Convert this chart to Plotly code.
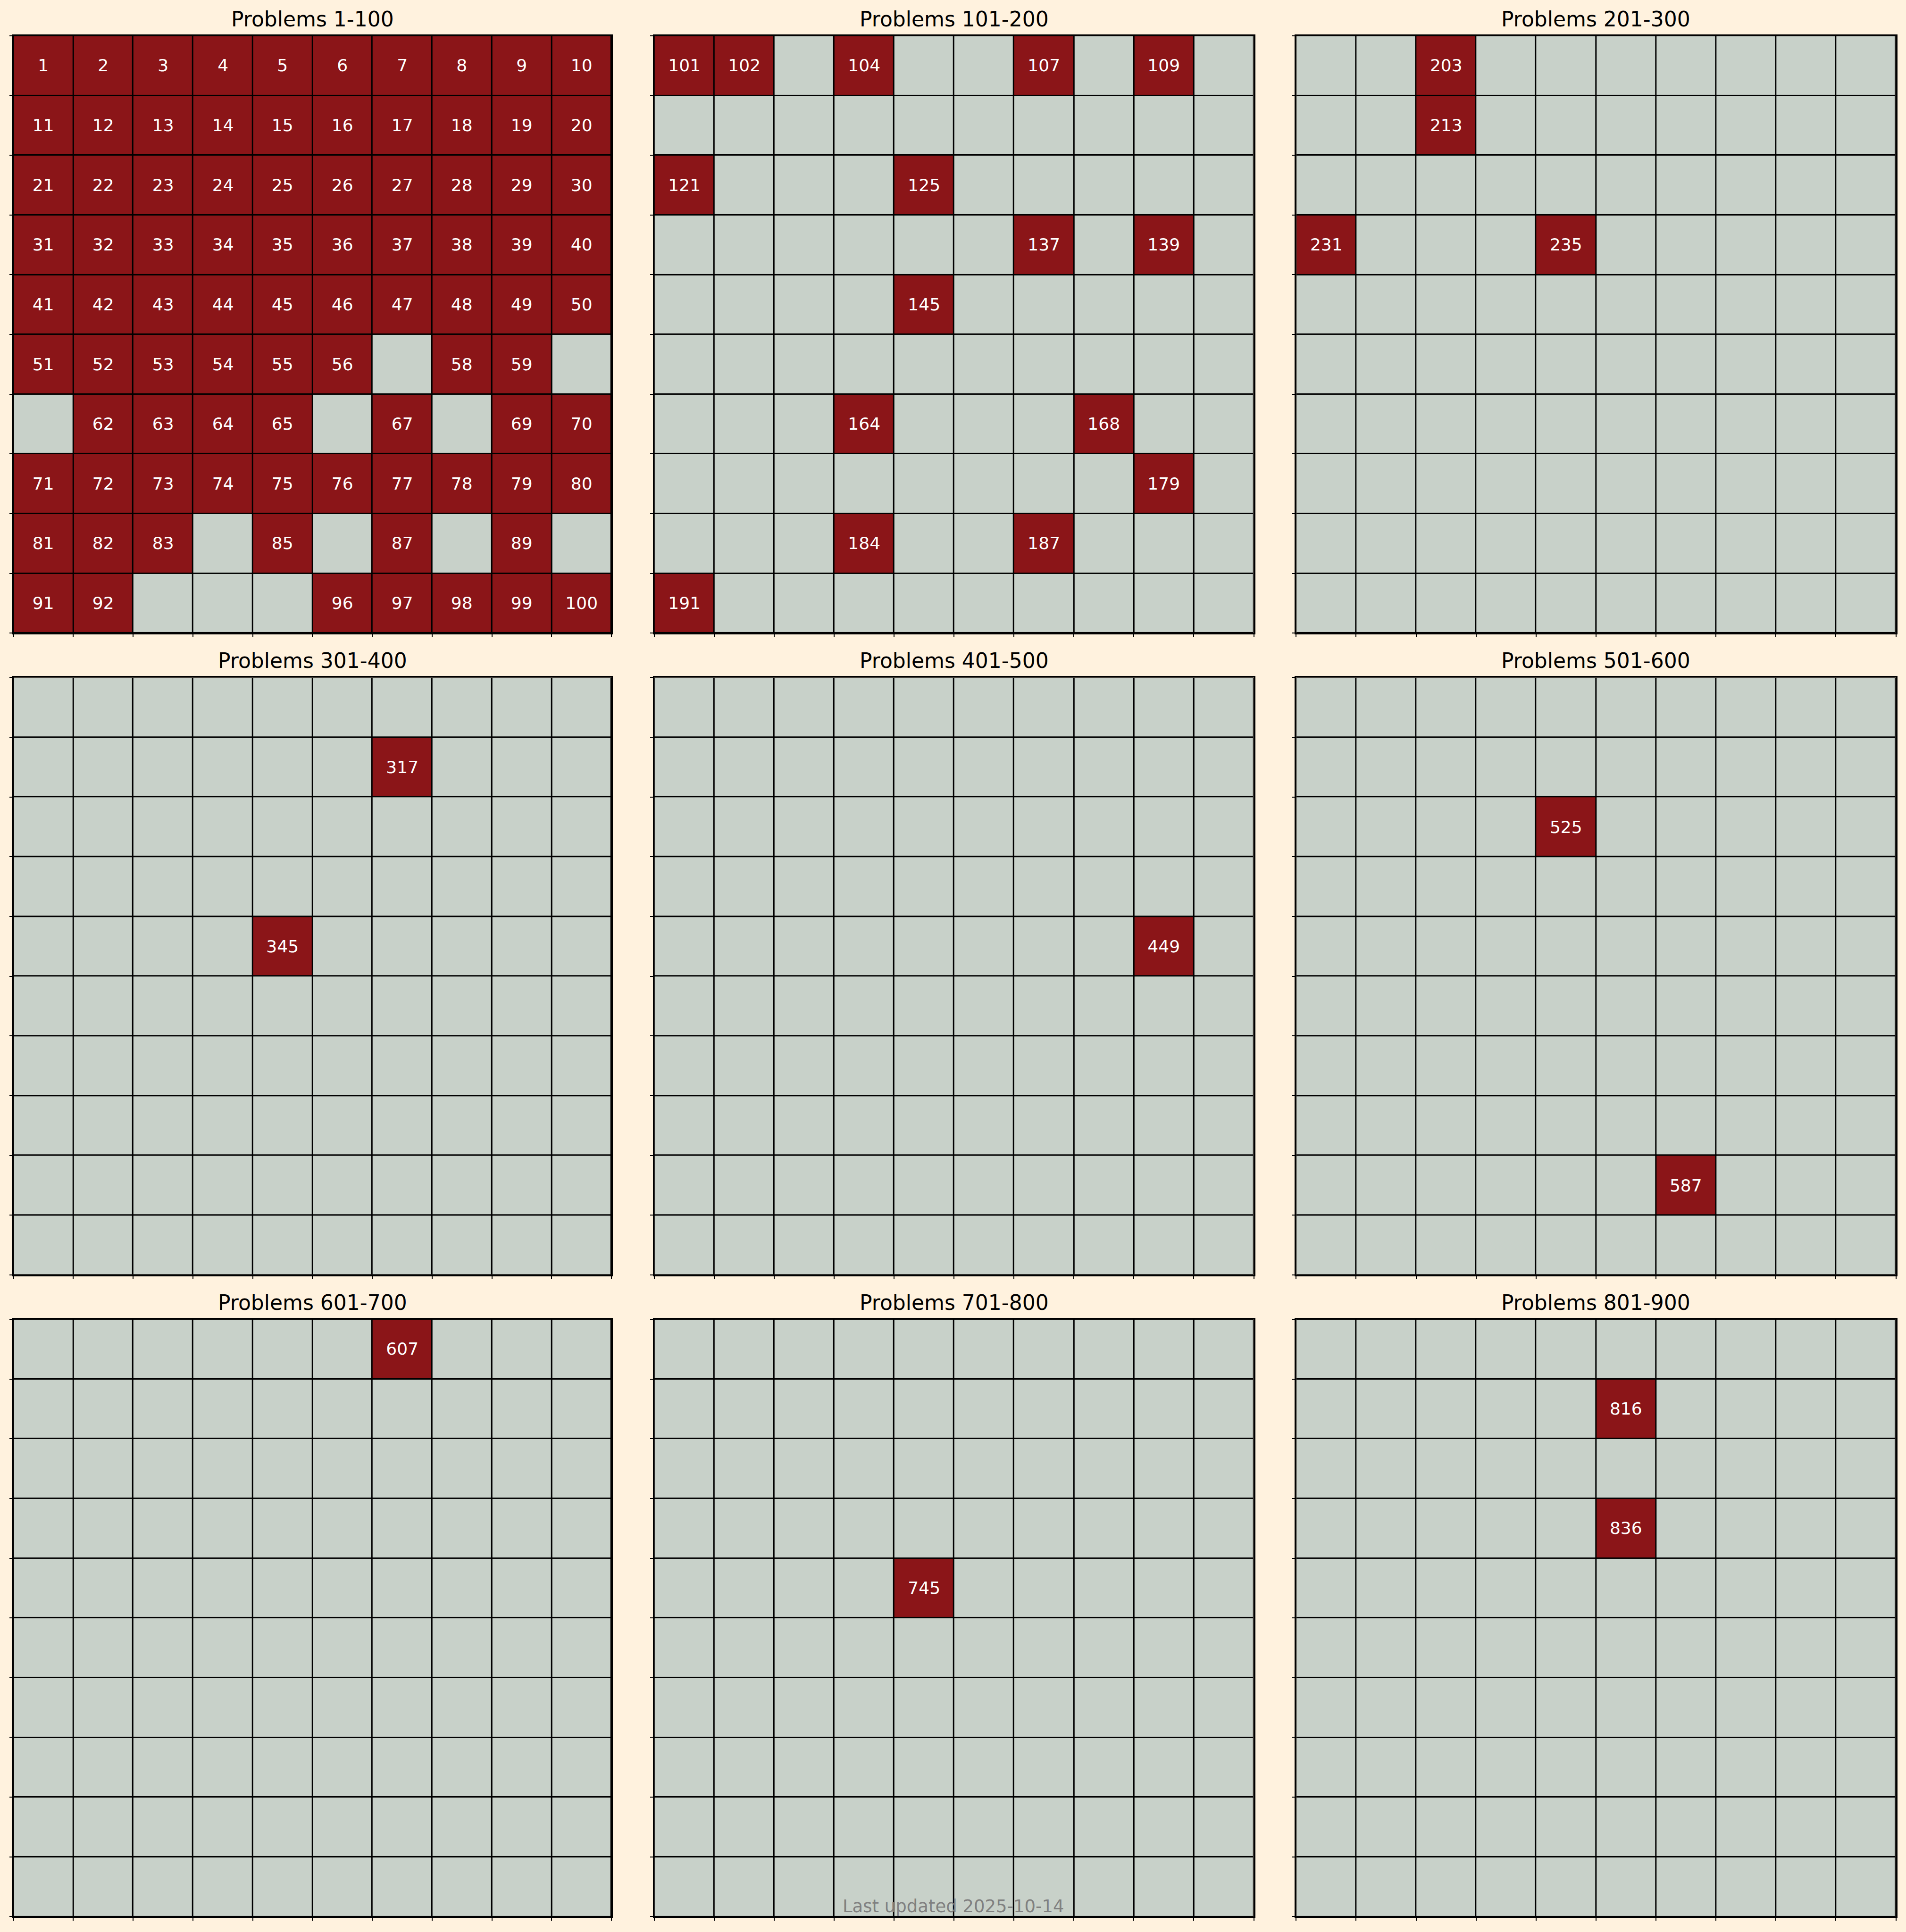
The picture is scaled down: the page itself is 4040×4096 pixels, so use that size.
import plotly.graph_objects as go

# ---- data ----
panel_titles = ["Problems 1-100", "Problems 101-200", "Problems 201-300",
                "Problems 301-400", "Problems 401-500", "Problems 501-600",
                "Problems 601-700", "Problems 701-800", "Problems 801-900"]
panel_starts = [1, 101, 201, 301, 401, 501, 601, 701, 801]

solved = [
    1, 2, 3, 4, 5, 6, 7, 8, 9, 10,
    11, 12, 13, 14, 15, 16, 17, 18, 19, 20,
    21, 22, 23, 24, 25, 26, 27, 28, 29, 30,
    31, 32, 33, 34, 35, 36, 37, 38, 39, 40,
    41, 42, 43, 44, 45, 46, 47, 48, 49, 50,
    51, 52, 53, 54, 55, 56, 58, 59,
    62, 63, 64, 65, 67, 69, 70,
    71, 72, 73, 74, 75, 76, 77, 78, 79, 80,
    81, 82, 83, 85, 87, 89,
    91, 92, 96, 97, 98, 99, 100,
    101, 102, 104, 107, 109, 121, 125, 137, 139, 145,
    164, 168, 179, 184, 187, 191,
    203, 213, 231, 235,
    317, 345,
    449,
    525, 587,
    607,
    745,
    816, 836,
]
footer_text = "Last updated 2025-10-14"
grid_cols = [0, 1, 2, 3, 4, 5, 6, 7, 8, 9]
grid_rows = [0, 1, 2, 3, 4, 5, 6, 7, 8, 9]

# ---- style ----
BG = "#FFF2DE"
RED = "#8B1518"
GRAY = "#C8D1C9"
FONT = "DejaVu Sans"
W, H = 4040, 4096

x_domains = [(28.7 / W, 1296.0 / W), (1386.7 / W, 2657.5 / W), (2747.3 / W, 4018.5 / W)]
y_domains = [(1 - 1342.3 / H, 1 - 75.9 / H), (1 - 2702.9 / H, 1 - 1436.3 / H),
             (1 - 4063.4 / H, 1 - 2796.9 / H)]

solved_set = set(solved)
fig = go.Figure()
annotations = []
for p, start in enumerate(panel_starts):
    r, c = divmod(p, 3)
    z, txt = [], []
    for row in grid_rows:
        zr, tr = [], []
        for col in grid_cols:
            n = start + row * 10 + col
            ok = n in solved_set
            zr.append(1 if ok else 0)
            tr.append(str(n) if ok else "")
        z.append(zr)
        txt.append(tr)
    suffix = "" if p == 0 else str(p + 1)
    fig.add_trace(go.Heatmap(
        z=z, x=grid_cols, y=grid_rows, text=txt, texttemplate="%{text}",
        textfont=dict(family=FONT, size=36, color="white"),
        colorscale=[[0, GRAY], [1, RED]], zmin=0, zmax=1, showscale=False,
        xgap=3, ygap=3, hoverinfo="skip",
        xaxis="x" + suffix, yaxis="y" + suffix,
    ))
    bounds = [v - 0.5 for v in grid_cols] + [grid_cols[-1] + 0.5]
    ax = dict(showticklabels=False, showgrid=False, zeroline=False,
              ticks="outside", ticklen=6, tickwidth=1.5, tickcolor="black",
              showline=True, linecolor="black", linewidth=3, mirror=True)
    fig.layout["xaxis" + suffix] = dict(
        domain=x_domains[c], range=[bounds[0], bounds[-1]], tickvals=bounds,
        anchor="y" + suffix, **ax)
    fig.layout["yaxis" + suffix] = dict(
        domain=y_domains[r], range=[bounds[-1], bounds[0]], tickvals=bounds,
        anchor="x" + suffix, **ax)
    annotations.append(dict(
        text=panel_titles[p], xref="paper", yref="paper",
        x=(x_domains[c][0] + x_domains[c][1]) / 2, y=y_domains[r][1],
        xanchor="center", yanchor="bottom", yshift=8, showarrow=False,
        font=dict(family=FONT, size=44, color="black")))

annotations.append(dict(
    text=footer_text, xref="paper", yref="paper", x=0.5, y=1 - 4041 / H,
    xanchor="center", yanchor="middle", showarrow=False,
    font=dict(family=FONT, size=37, color="rgba(128,128,128,1)")))

fig.update_layout(
    width=W, height=H, margin=dict(l=0, r=0, t=0, b=0),
    paper_bgcolor=BG, plot_bgcolor="black", showlegend=False,
    annotations=annotations,
)
fig.write_html("out.html")
